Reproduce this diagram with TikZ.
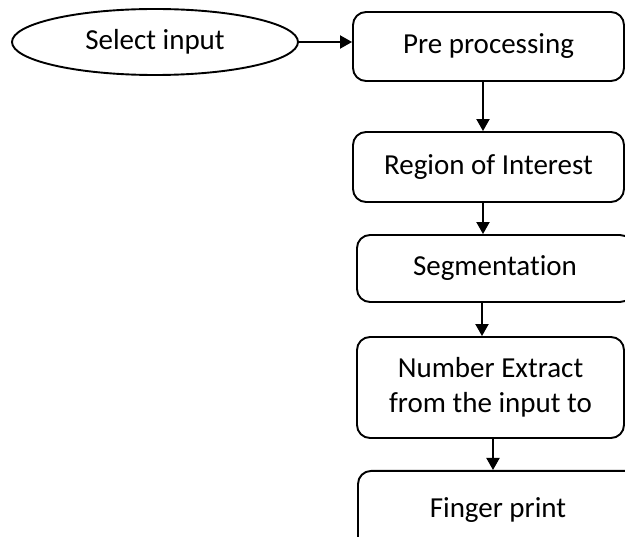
\documentclass[tikz,border=0pt]{standalone}
\usepackage{fontspec}
\setmainfont[Ligatures=NoCommon]{Carlito}
\usetikzlibrary{arrows.meta,shapes.geometric}

\tikzset{
  stepbox/.style={draw, line width=1.9pt, rounded corners=13pt, align=center,
    font=\fontsize{29}{35}\selectfont},
  startnode/.style={draw, ellipse, line width=1.9pt, inner sep=0pt,
    minimum width=286pt, minimum height=66pt, font=\fontsize{29}{35}\selectfont},
  arr/.style={-{Triangle[length=12pt,width=13pt]}, line width=1.9pt}
}

\begin{document}
\begin{tikzpicture}[x=1pt,y=-1pt]
            \useasboundingbox (0,0) rectangle (625,537);
            \fill[white] (0,0) rectangle (625,537);
            \clip (0,0) rectangle (625,537);
            % nodes
            \node[startnode] (select) at (155,42) {Select input};
            \node[stepbox, minimum width=271pt, minimum height=69pt] (pre) at (488.5,46.5) {Pre processing};
            \node[stepbox, minimum width=271pt, minimum height=70pt] (roi) at (488.5,167) {Region of Interest};
            \node[stepbox, minimum width=276pt, minimum height=67pt] (seg) at (495,268.5) {Segmentation};
            \node[stepbox, minimum width=267pt, minimum height=101pt] (num) at (490.5,387.5) {Number Extract\\from the input to};
            \node[stepbox, minimum width=280pt, minimum height=80pt, anchor=north] (fp) at (498,470) {\raisebox{6pt}{Finger print}};
            % arrows
            \draw[arr] (select.east) -- (pre.west |- select.east);
            \draw[arr] ([xshift=-5.5pt]pre.south) -- ([xshift=-5.5pt]pre.south |- roi.north);
            \draw[arr] ([xshift=-5.5pt]roi.south) -- ([xshift=-5.5pt]roi.south |- seg.north);
            \draw[arr] ([xshift=-13pt]seg.south) -- ([xshift=-13pt]seg.south |- num.north);
            \draw[arr] ([xshift=2.5pt]num.south) -- ([xshift=2.5pt]num.south |- fp.north);
        \end{tikzpicture}
\end{document}
